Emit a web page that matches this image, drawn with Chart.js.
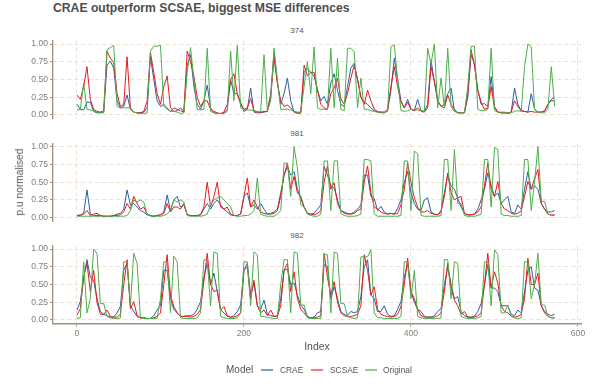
<!DOCTYPE html>
<html><head><meta charset="utf-8">
<script src="https://cdn.jsdelivr.net/npm/chart.js@4"></script>
<style>
body{margin:0;background:#fff;}
#wrap{position:relative;width:594px;height:384px;overflow:hidden;font-family:'Liberation Sans',Arial,sans-serif;background:#fff;}
canvas{position:absolute;left:0;}
.t{position:absolute;white-space:nowrap;line-height:1;}
.sw{position:absolute;height:2px;width:12px;}
</style></head><body>
<div id="wrap">
<div class="t" style="left:53px;top:2px;font-size:12.2px;font-weight:bold;color:#4d4d4d;">CRAE outperform SCSAE, biggest MSE differences</div>
<div class="t" id="s1" style="left:0;width:594px;text-align:center;font-size:8px;color:#555;"></div>
<div class="t" id="s2" style="left:0;width:594px;text-align:center;font-size:8px;color:#555;"></div>
<div class="t" id="s3" style="left:0;width:594px;text-align:center;font-size:8px;color:#555;"></div>
<canvas id="c1" width="594" height="94" style="top:32px"></canvas>
<canvas id="c2" width="594" height="94" style="top:135px"></canvas>
<canvas id="c3" width="594" height="108" style="top:237px"></canvas>
<div class="t" style="left:-30px;top:176.6px;width:100px;text-align:center;font-size:10.2px;color:#555;transform:rotate(-90deg);">p.u normalised</div>
<div class="t" style="left:267px;top:340.5px;width:100px;text-align:center;font-size:10.5px;color:#555;">Index</div>
<div id="legend"></div>
</div>
<script>
const PANELS = ['374', '981', '982'];
const INDEX = [0,4,8,12,16,20,24,28,32,36,40,44,48,52,56,60,64,68,72,76,80,84,88,92,
96,100,104,108,112,116,120,124,128,132,136,140,144,148,152,156,160,164,168,172,176,180,184,188,
192,196,200,204,208,212,216,220,224,228,232,236,240,244,248,252,256,260,264,268,272,276,280,284,
288,292,296,300,304,308,312,316,320,324,328,332,336,340,344,348,352,356,360,364,368,372,376,380,
384,388,392,396,400,404,408,412,416,420,424,428,432,436,440,444,448,452,456,460,464,468,472,476,
480,484,488,492,496,500,504,508,512,516,520,524,528,532,536,540,544,548,552,556,560,564,568,572];
const X_TICKS = [0, 200, 400, 600];
const Y_TICKS = [0, 0.25, 0.5, 0.75, 1];

const CRAE_374 = [.15,.08,.07,.18,.18,.05,.03,.03,.04,.70,.76,.66,
.20,.10,.12,.28,.08,.04,.03,.03,.04,.10,.82,.50,
.20,.12,.15,.10,.05,.10,.08,.06,.04,.70,.85,.40,
.15,.08,.20,.42,.10,.03,.02,.02,.03,.08,.50,.30,
.30,.18,.05,.08,.38,.04,.03,.03,.04,.05,.30,.88,
.45,.15,.30,.52,.20,.04,.02,.03,.60,.66,.60,.55,
.35,.20,.26,.15,.45,.58,.35,.15,.12,.40,.66,.73,
.50,.25,.18,.15,.10,.06,.04,.03,.03,.06,.35,.80,
.50,.20,.10,.22,.08,.06,.22,.06,.05,.15,.77,.47,
.20,.12,.15,.30,.38,.06,.03,.03,.03,.25,.85,.72,
.35,.15,.16,.12,.54,.12,.04,.03,.03,.02,.04,.38,
.15,.06,.05,.04,.30,.08,.04,.04,.05,.15,.22,.25];
const SCSAE_374 = [.28,.22,.40,.68,.22,.08,.05,.04,.06,.90,.80,.74,
.30,.12,.15,.82,.10,.04,.03,.03,.05,.20,.88,.60,
.30,.15,.40,.55,.10,.05,.06,.10,.05,.90,.75,.55,
.25,.12,.20,.20,.08,.05,.03,.02,.04,.15,.50,.58,
.30,.15,.08,.10,.23,.06,.04,.04,.05,.05,.25,.80,
.45,.20,.12,.14,.10,.05,.03,.03,.70,.55,.60,.60,
.35,.15,.10,.08,.30,.38,.52,.23,.15,.30,.52,.70,
.50,.25,.15,.35,.20,.08,.05,.04,.04,.08,.40,.68,
.40,.18,.10,.18,.08,.06,.10,.05,.04,.10,.68,.47,
.20,.12,.10,.28,.15,.08,.03,.03,.03,.30,.92,.70,
.35,.18,.08,.10,.40,.10,.04,.03,.03,.03,.04,.20,
.12,.06,.05,.04,.05,.04,.04,.04,.06,.15,.20,.20];
const ORIG_374 = [.08,.07,.45,.08,.07,.06,.04,.03,.03,.92,.95,.98,
.12,.10,.10,.10,.10,.04,.03,.02,.02,.03,.90,.97,
.97,.98,.12,.08,.05,.05,.04,.02,.03,.60,.95,.50,
.08,.07,.08,.94,.05,.03,.02,.02,.02,.05,.90,.20,
.98,.10,.08,.07,.07,.06,.05,.05,.85,.06,.20,.94,
.50,.08,.08,.08,.07,.05,.04,.04,.40,.75,.30,.96,
.10,.08,.08,.08,.94,.10,.80,.08,.06,.94,.94,.89,
.10,.52,.08,.08,.06,.05,.04,.04,.04,.05,.96,.99,
.50,.06,.05,.06,.08,.07,.07,.06,.05,.94,.72,1.0,
.10,.52,.10,.94,.12,.05,.03,.03,.03,.40,.97,.97,
.08,.06,.06,.08,.94,.06,.04,.04,.04,.03,.03,.05,
.06,.05,.68,1.0,.96,.08,.04,.03,.03,.08,.68,.12];

const CRAE_981 = [.03,.04,.06,.39,.05,.03,.03,.03,.02,.02,.02,.03,
.05,.06,.12,.39,.18,.20,.15,.10,.08,.04,.03,.02,
.03,.04,.08,.32,.10,.25,.30,.15,.18,.04,.03,.03,
.03,.04,.12,.20,.12,.20,.25,.18,.12,.08,.04,.03,
.03,.05,.30,.35,.15,.18,.12,.20,.12,.05,.05,.06,
.10,.30,.60,.72,.60,.65,.40,.27,.15,.06,.05,.06,
.12,.18,.72,.60,.45,.42,.25,.10,.08,.06,.05,.08,
.12,.18,.60,.60,.30,.27,.10,.16,.08,.05,.06,.05,
.13,.25,.50,.65,.35,.20,.12,.10,.25,.28,.08,.05,
.04,.10,.35,.60,.45,.40,.27,.15,.06,.04,.04,.05,
.12,.25,.40,.63,.45,.30,.35,.20,.25,.30,.08,.06,
.18,.12,.40,.65,.40,.45,.40,.20,.12,.08,.08,.10];
const SCSAE_981 = [.03,.03,.05,.10,.03,.05,.06,.03,.02,.02,.02,.03,
.03,.04,.08,.20,.12,.30,.20,.12,.15,.05,.03,.02,
.03,.04,.06,.20,.08,.15,.15,.12,.20,.04,.03,.03,
.03,.04,.15,.50,.15,.30,.50,.15,.12,.15,.05,.03,
.03,.05,.30,.56,.15,.25,.15,.08,.06,.05,.06,.08,
.12,.35,.60,.77,.40,.58,.35,.30,.15,.06,.05,.04,
.06,.10,.50,.73,.40,.49,.20,.10,.06,.05,.05,.06,
.10,.12,.50,.73,.35,.15,.12,.08,.06,.05,.06,.05,
.06,.18,.40,.77,.50,.28,.15,.08,.08,.10,.06,.05,
.04,.08,.30,.63,.35,.25,.28,.30,.06,.04,.04,.05,
.08,.15,.45,.77,.40,.30,.51,.20,.12,.10,.06,.05,
.06,.10,.30,.51,.40,.55,.68,.20,.12,.05,.04,.04];
const ORIG_981 = [.02,.02,.02,.02,.02,.02,.02,.02,.02,.02,.02,.02,
.02,.02,.02,.03,.10,.25,.22,.25,.22,.05,.02,.02,
.02,.02,.03,.05,.10,.25,.22,.25,.22,.03,.02,.02,
.02,.02,.03,.05,.18,.25,.28,.30,.25,.20,.15,.03,
.02,.02,.03,.03,.05,.10,.56,.05,.03,.02,.02,.02,
.05,.10,.77,.77,.30,1.0,.70,.18,.15,.05,.03,.02,
.02,.05,.80,.80,.10,.80,.80,.06,.03,.02,.02,.02,
.03,.05,.82,.82,.80,.05,.02,.02,.02,.02,.02,.02,
.02,.03,.80,.80,.10,.94,.90,.03,.02,.02,.02,.02,
.02,.03,.82,.82,.10,.96,.20,.20,.03,.02,.02,.02,
.03,.05,.82,.82,.15,.99,.96,.05,.03,.03,.02,.02,
.02,.03,.82,.82,.10,.50,1.0,.23,.23,.05,.03,.03];

const CRAE_982 = [.14,.26,.60,.85,.60,.56,.30,.12,.08,.06,.04,.04,
.10,.19,.70,.80,.20,.12,.05,.03,.03,.02,.02,.06,
.14,.20,.70,.70,.30,.15,.10,.05,.05,.06,.06,.08,
.15,.26,.60,.80,.50,.66,.40,.14,.10,.05,.04,.06,
.12,.21,.70,.80,.35,.52,.20,.15,.28,.08,.06,.05,
.06,.30,.70,.72,.50,.52,.35,.21,.15,.05,.03,.04,
.10,.12,.78,.75,.30,.47,.30,.12,.08,.06,.12,.10,
.12,.33,.75,.85,.35,.30,.12,.12,.20,.08,.05,.06,
.15,.26,.60,.80,.40,.25,.15,.12,.05,.04,.04,.06,
.12,.16,.50,.75,.50,.30,.33,.12,.06,.04,.04,.05,
.12,.23,.50,.78,.45,.45,.40,.20,.20,.20,.08,.06,
.14,.10,.40,.70,.75,.45,.42,.20,.12,.08,.06,.08];
const SCSAE_982 = [.07,.16,.60,.80,.40,.70,.25,.08,.08,.14,.05,.04,
.04,.08,.50,.85,.16,.26,.06,.03,.03,.02,.02,.03,
.05,.10,.50,.92,.35,.19,.10,.05,.05,.05,.04,.05,
.08,.15,.55,.94,.50,.40,.42,.14,.19,.06,.04,.04,
.06,.10,.70,.75,.30,.56,.20,.10,.14,.06,.14,.05,
.05,.20,.70,.80,.40,.68,.30,.15,.10,.04,.03,.03,
.04,.06,.94,.60,.35,.54,.25,.10,.06,.05,.05,.06,
.08,.20,.92,.70,.35,.47,.15,.08,.06,.05,.04,.05,
.08,.19,.50,.87,.40,.30,.15,.06,.04,.04,.04,.04,
.06,.10,.40,.80,.45,.28,.20,.08,.12,.04,.04,.04,
.06,.10,.50,.94,.45,.68,.52,.20,.12,.10,.05,.04,
.05,.08,.30,.87,.50,.50,.66,.20,.10,.05,.03,.03];
const ORIG_982 = [.02,.03,.82,.10,.30,1.0,.94,.23,.23,.05,.03,.02,
.02,.03,.82,.82,.20,.94,.80,.03,.02,.02,.02,.02,
.02,.30,.82,.82,.10,.90,.82,.03,.02,.02,.02,.02,
.03,.10,.85,.85,.20,.96,.94,.05,.03,.02,.02,.02,
.03,.10,.82,.82,.20,.96,.92,.05,.05,.03,.03,.02,
.02,.50,.85,.85,.10,.96,.94,.21,.21,.03,.02,.02,
.02,.02,.92,.92,.10,.96,.94,.23,.23,.05,.03,.02,
.03,.89,.89,.89,.99,.10,.03,.03,.02,.02,.02,.02,
.02,.05,.82,.82,.30,.70,.05,.03,.02,.02,.02,.02,
.02,.03,.85,.85,.30,.82,.80,.05,.03,.02,.02,.02,
.03,.05,.82,.82,.20,.99,.92,.10,.10,.21,.05,.03,
.02,.03,.82,.82,.30,.50,.94,.21,.21,.05,.03,.03];

const SERIES = ['CRAE', 'SCSAE', 'Original'];
const COLORS = {CRAE: '#2b5fa3', SCSAE: '#e8191f', Original: '#4cae4a'};
const LEGEND_COLORS = {CRAE: '#7c9fcc', SCSAE: '#f07d7f', Original: '#92d08f'};

const BROWN = '#a38d7b';
const GRID = '#efdfd2';
const TICK_TXT = '#7f7f7f';

function pts(vals){ return vals.map((v, k) => ({x: INDEX[k], y: v})); }

function makeChart(id, crae, scsae, orig, showX, padTop, padBottom, xH){
  const ds = [
    {label:'CRAE', data: pts(crae), borderColor: COLORS.CRAE, order: 2},
    {label:'SCSAE', data: pts(scsae), borderColor: COLORS.SCSAE, order: 1},
    {label:'Original', data: pts(orig), borderColor: COLORS.Original, order: 0}
  ].map(d => Object.assign(d, {borderWidth: 1, pointRadius: 0, tension: 0, fill: false}));
  return new Chart(document.getElementById(id), {
    type: 'line',
    data: {datasets: ds},
    options: {
      responsive: false, animation: false, devicePixelRatio: 1,
      layout: {padding: {left: 0, right: 13, top: padTop, bottom: padBottom}},
      plugins: {legend: {display: false}, tooltip: {enabled: false}},
      scales: {
        x: {
          type: 'linear', min: -29.3, max: 603.6,
          afterBuildTicks: s => { s.ticks = X_TICKS.map(v => ({value: v})); },
          afterFit: s => { s.height = xH; },
          grid: {color: GRID, lineWidth: 1, drawTicks: showX, tickLength: 3, tickColor: BROWN, tickWidth: 1, tickBorderDash: []},
          border: {display: showX, color: BROWN, width: 1.6, dash: [4, 3]},
          ticks: {display: showX, color: TICK_TXT, font: {family: 'Liberation Sans', size: 8.6}, padding: 2, maxRotation: 0, autoSkip: false}
        },
        y: {
          min: -0.05, max: 1.05,
          afterBuildTicks: s => { s.ticks = Y_TICKS.map(v => ({value: v})); },
          afterFit: s => { s.width = 52.5; },
          grid: {color: GRID, lineWidth: 1, drawTicks: true, tickLength: 2.5, tickColor: BROWN, tickWidth: 1, tickBorderDash: []},
          border: {display: true, color: BROWN, width: 1.3, dash: [4, 3]},
          ticks: {color: TICK_TXT, font: {family: 'Liberation Sans', size: 8.6}, padding: 2, callback: v => v.toFixed(2)}
        }
      }
    }
  });
}

makeChart('c1', CRAE_374, SCSAE_374, ORIG_374, false, 8.5, 7.5, 0);
makeChart('c2', CRAE_981, SCSAE_981, ORIG_981, false, 8.2, 7.8, 0);
makeChart('c3', CRAE_982, SCSAE_982, ORIG_982, true, 8.5, 0, 21.5);

// facet strip labels
const stripTops = [26.8, 129.5, 231.8];
PANELS.forEach((p, k) => { const el = document.getElementById('s' + (k + 1)); el.textContent = p; el.style.top = stripTops[k] + 'px'; });

// legend
const lg = document.getElementById('legend');
const legendY = 370;
function addText(txt, left, size, color){
  const d = document.createElement('div'); d.className = 't'; d.textContent = txt;
  d.style.left = left + 'px'; d.style.top = (legendY - size / 2) + 'px'; d.style.fontSize = size + 'px'; d.style.color = color;
  lg.appendChild(d);
}
addText('Model', 226, 10, '#555');
const swX = [261, 311, 365], txX = [280, 330, 383];
SERIES.forEach((s, k) => {
  const sw = document.createElement('div'); sw.className = 'sw';
  sw.style.left = swX[k] + 'px'; sw.style.top = (legendY - 1) + 'px'; sw.style.background = LEGEND_COLORS[s];
  lg.appendChild(sw);
  addText(s, txX[k], 8.4, '#555');
});
</script>
</body></html>
